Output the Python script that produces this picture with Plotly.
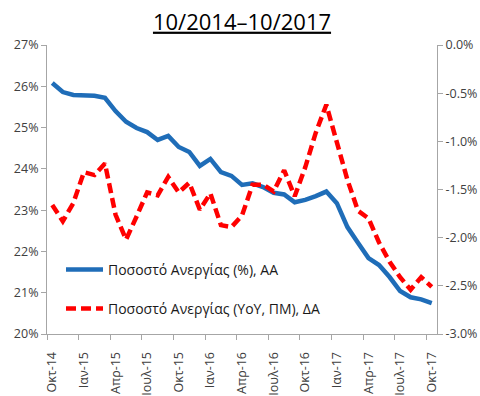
import plotly.graph_objects as go

months = ["Οκτ-14", "Νοε-14", "Δεκ-14", "Ιαν-15", "Φεβ-15", "Μαρ-15", "Απρ-15", "Μαϊ-15", "Ιουν-15",
          "Ιουλ-15", "Αυγ-15", "Σεπ-15", "Οκτ-15", "Νοε-15", "Δεκ-15", "Ιαν-16", "Φεβ-16", "Μαρ-16",
          "Απρ-16", "Μαϊ-16", "Ιουν-16", "Ιουλ-16", "Αυγ-16", "Σεπ-16", "Οκτ-16", "Νοε-16", "Δεκ-16",
          "Ιαν-17", "Φεβ-17", "Μαρ-17", "Απρ-17", "Μαϊ-17", "Ιουν-17", "Ιουλ-17", "Αυγ-17", "Σεπ-17",
          "Οκτ-17"]

unemployment_rate = [26.08, 25.86, 25.79, 25.78, 25.77, 25.72, 25.40, 25.14, 24.99, 24.89,
                     24.70, 24.80, 24.53, 24.41, 24.07, 24.24, 23.92, 23.83, 23.61, 23.65,
                     23.56, 23.42, 23.38, 23.19, 23.25, 23.34, 23.45, 23.17, 22.59, 22.21,
                     21.84, 21.67, 21.38, 21.04, 20.89, 20.84, 20.75]

unemployment_yoy = [-1.66, -1.83, -1.64, -1.32, -1.35, -1.23, -1.76, -2.02, -1.78, -1.53,
                    -1.56, -1.37, -1.53, -1.43, -1.71, -1.54, -1.87, -1.89, -1.77, -1.45,
                    -1.45, -1.52, -1.30, -1.57, -1.27, -0.91, -0.62, -1.02, -1.40, -1.72,
                    -1.80, -2.05, -2.25, -2.41, -2.54, -2.41, -2.51]

name_rate = "Ποσοστό Ανεργίας (%), ΑΑ"
name_yoy = "Ποσοστό Ανεργίας (YoY, ΠΜ), ΔΑ"
title_text = "10/2014–10/2017"

left_ticks = [20, 21, 22, 23, 24, 25, 26, 27]
right_ticks = [-3.0, -2.5, -2.0, -1.5, -1.0, -0.5, 0.0]

FONT = "Open Sans"
AXIS_GRAY = "#A6A6A6"
LABEL_GRAY = "#404040"

# plot area in pixels (for placing the in-plot legends)
PL, PR, PT, PB = 47, 437, 45, 334
PW, PH = PR - PL, PB - PT

x = list(range(len(months)))
label_idx = list(range(0, len(months), 3))

fig = go.Figure()
fig.add_trace(go.Scatter(
    x=x, y=unemployment_rate, mode="lines", name=name_rate,
    line=dict(color="#1F6DB8", width=4.5), yaxis="y", legend="legend",
))
fig.add_trace(go.Scatter(
    x=x, y=unemployment_yoy, mode="lines", name=name_yoy,
    line=dict(color="#FF0000", width=4.5, dash="10px,5px"), yaxis="y2", legend="legend2",
))

legend_common = dict(
    xanchor="left", yanchor="middle", xref="paper", yref="paper",
    bgcolor="rgba(0,0,0,0)", borderwidth=0, itemwidth=37,
    font=dict(family=FONT, size=14, color="#1A1A1A"),
)

fig.update_layout(
    width=480, height=396,
    margin=dict(l=PL, r=480 - PR, t=PT, b=396 - PB, autoexpand=False),
    paper_bgcolor="white", plot_bgcolor="white",
    font=dict(family=FONT, color=LABEL_GRAY, size=12.5),
    title=dict(text=f"<u>{title_text}</u>", x=242 / 480, xanchor="center", xref="container",
               y=1 - 22 / 396, yanchor="middle", yref="container",
               font=dict(family=FONT, size=22, color="#000000")),
    xaxis=dict(
        range=[-0.5, len(months) - 0.5],
        tickmode="array",
        tickvals=label_idx,
        ticktext=[months[i] for i in label_idx],
        tickangle=-90,
        ticks="",
        ticklabelstandoff=12,
        showline=True, linecolor=AXIS_GRAY, linewidth=1,
        showgrid=False, zeroline=False,
        tickfont=dict(family=FONT, size=12.5, color=LABEL_GRAY),
        minor=dict(tickmode="linear", tick0=-0.5, dtick=3, ticks="outside",
                   ticklen=5, tickcolor=AXIS_GRAY, tickwidth=1, showgrid=False),
    ),
    yaxis=dict(
        range=[20, 27],
        tickmode="array",
        tickvals=left_ticks,
        ticktext=[f"{v}%" for v in left_ticks],
        ticks="outside", ticklen=5, tickcolor=AXIS_GRAY,
        showline=True, linecolor=AXIS_GRAY, linewidth=1,
        showgrid=False, zeroline=False,
        tickfont=dict(family=FONT, size=12.5, color=LABEL_GRAY),
    ),
    yaxis2=dict(
        range=[-3.0, 0.0],
        overlaying="y", side="right",
        tickmode="array",
        tickvals=right_ticks,
        ticktext=[f"{v:.1f}%" for v in right_ticks],
        ticks="outside", ticklen=5, tickcolor=AXIS_GRAY,
        showline=True, linecolor=AXIS_GRAY, linewidth=1,
        showgrid=False, zeroline=False,
        tickfont=dict(family=FONT, size=12.5, color=LABEL_GRAY),
    ),
    legend=dict(x=(61 - PL) / PW, y=(PB - 270) / PH, **legend_common),
    legend2=dict(x=(61 - PL) / PW, y=(PB - 309) / PH, **legend_common),
    showlegend=True,
)

fig.write_html("out.html")
